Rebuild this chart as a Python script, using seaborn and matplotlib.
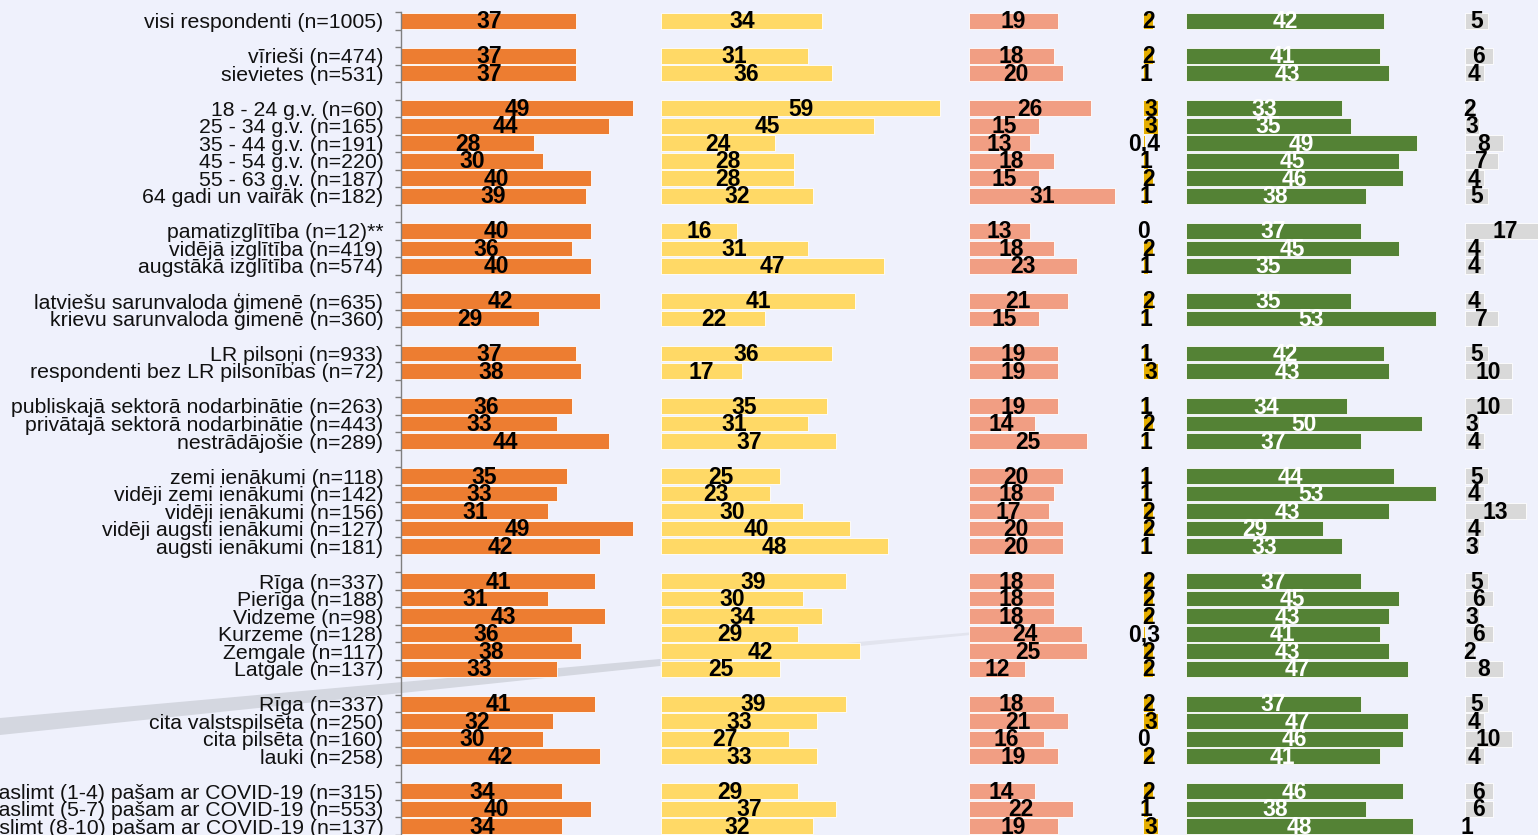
import numpy as np
import pandas as pd
import matplotlib
matplotlib.use('Agg')
import matplotlib.pyplot as plt
import seaborn as sns
from matplotlib.patches import Polygon

# Row labels (groups are separated by an empty row)
labels = [
    'visi respondenti (n=1005)',
    'vīrieši (n=474)', 'sievietes (n=531)',
    '18 - 24 g.v. (n=60)', '25 - 34 g.v. (n=165)', '35 - 44 g.v. (n=191)',
    '45 - 54 g.v. (n=220)', '55 - 63 g.v. (n=187)', '64 gadi un vairāk (n=182)',
    'pamatizglītība (n=12)**', 'vidējā izglītība (n=419)', 'augstākā izglītība (n=574)',
    'latviešu sarunvaloda ģimenē (n=635)', 'krievu sarunvaloda ģimenē (n=360)',
    'LR pilsoņi (n=933)', 'respondenti bez LR pilsonības (n=72)',
    'publiskajā sektorā nodarbinātie (n=263)', 'privātajā sektorā nodarbinātie (n=443)',
    'nestrādājošie (n=289)',
    'zemi ienākumi (n=118)', 'vidēji zemi ienākumi (n=142)', 'vidēji ienākumi (n=156)',
    'vidēji augsti ienākumi (n=127)', 'augsti ienākumi (n=181)',
    'Rīga (n=337)', 'Pierīga (n=188)', 'Vidzeme (n=98)', 'Kurzeme (n=128)',
    'Zemgale (n=117)', 'Latgale (n=137)',
    'Rīga (n=337)', 'cita valstspilsēta (n=250)', 'cita pilsēta (n=160)', 'lauki (n=258)',
    'saslimt (1-4) pašam ar COVID-19 (n=315)',
    'saslimt (5-7) pašam ar COVID-19 (n=553)',
    'saslimt (8-10) pašam ar COVID-19 (n=137)',
]
group_sizes = [1, 2, 6, 3, 2, 2, 3, 5, 6, 4, 3]

col1 = [37, 37, 37, 49, 44, 28, 30, 40, 39, 40, 36, 40, 42, 29, 37, 38, 36, 33, 44,
        35, 33, 31, 49, 42, 41, 31, 43, 36, 38, 33, 41, 32, 30, 42, 34, 40, 34]
col2 = [34, 31, 36, 59, 45, 24, 28, 28, 32, 16, 31, 47, 41, 22, 36, 17, 35, 31, 37,
        25, 23, 30, 40, 48, 39, 30, 34, 29, 42, 25, 39, 33, 27, 33, 29, 37, 32]
col3 = [19, 18, 20, 26, 15, 13, 18, 15, 31, 13, 18, 23, 21, 15, 19, 19, 19, 14, 25,
        20, 18, 17, 20, 20, 18, 18, 18, 24, 25, 12, 18, 21, 16, 19, 14, 22, 19]
col4 = [2, 2, 1, 3, 3, 0.4, 1, 2, 1, 0, 2, 1, 2, 1, 1, 3, 1, 2, 1,
        1, 1, 2, 2, 1, 2, 2, 2, 0.3, 2, 2, 2, 3, 0, 2, 2, 1, 3]
col5 = [42, 41, 43, 33, 35, 49, 45, 46, 38, 37, 45, 35, 35, 53, 42, 43, 34, 50, 37,
        44, 53, 43, 29, 33, 37, 45, 43, 41, 43, 47, 37, 47, 46, 41, 46, 38, 48]
col6 = [5, 6, 4, 2, 3, 8, 7, 4, 5, 17, 4, 4, 4, 7, 5, 10, 10, 3, 4,
        5, 4, 13, 4, 3, 5, 6, 3, 6, 2, 8, 5, 4, 10, 4, 6, 6, 1]

series = [col1, col2, col3, col4, col5, col6]
colors = ['#ED7D31', '#FFD966', '#F19E83', '#E5AE00', '#548235', '#D9D9D9']
text_colors = ['black', 'black', 'black', 'black', 'white', 'black']
GAP = 6
BG = '#EFF1FC'


def fmt(v):
    if float(v).is_integer():
        return str(int(v))
    return str(v).replace('.', ',')


# row slots, one empty slot between groups
pos = []
p = 0
for g in group_sizes:
    pos.extend(range(p, p + g))
    p += g + 1
last = pos[-1]

sns.set_theme(style='white')
plt.rcParams['font.family'] = ['Liberation Sans', 'DejaVu Sans']

W, H = 1538, 835
fig = plt.figure(figsize=(W / 100, H / 100), dpi=100, facecolor=BG)

# faint diagonal stripe in the background
def px(pts):
    return [(x / W, 1 - y / H) for x, y in pts]

fig.patches.append(Polygon(px([(0, 718), (660, 659), (660, 666), (0, 735)]),
                           closed=True, transform=fig.transFigure,
                           facecolor='#D4D7E0', edgecolor='none', zorder=-1))
fig.patches.append(Polygon(px([(660, 659), (1010, 629), (1010, 631), (660, 666)]),
                           closed=True, transform=fig.transFigure,
                           facecolor='#E2E4EE', edgecolor='none', zorder=-1))

ax = fig.add_axes([401.5 / W, 0, 1136.5 / W, 823 / H])
ax.set_facecolor('none')

offset = 0
for vals, c, tc in zip(series, colors, text_colors):
    df = pd.DataFrame({'value': vals, 'pos': pos})
    sns.barplot(data=df, x='value', y='pos', orient='y', native_scale=True,
                color=c, saturation=1, width=0.9, errorbar=None, left=offset,
                edgecolor='white', linewidth=0.6, ax=ax)
    for v, y in zip(vals, pos):
        ax.text(offset + v / 2, y + 0.06, fmt(v), ha='center', va='center',
                fontsize=16.5, fontweight='bold', color=tc)
    offset += max(vals) + GAP

ax.set_xlim(0, 240.5)
ax.set_ylim(last + 0.5, -0.5)
ax.set_xlabel('')
ax.set_ylabel('')
ax.set_xticks([])
ax.set_yticks(pos)
ax.set_yticklabels(labels, fontsize=15.3, color='#111111')
ax.set_yticks(np.arange(-0.5, last + 1, 1), minor=True)
ax.tick_params(axis='y', which='major', length=0, pad=13)
ax.tick_params(axis='y', which='minor', length=4.5, width=1, color='#7f7f7f', left=True)
for side in ['top', 'right', 'bottom']:
    ax.spines[side].set_visible(False)
ax.spines['left'].set_color('#7f7f7f')
ax.spines['left'].set_linewidth(1)

fig.savefig('out.png', dpi=100, facecolor=BG)
